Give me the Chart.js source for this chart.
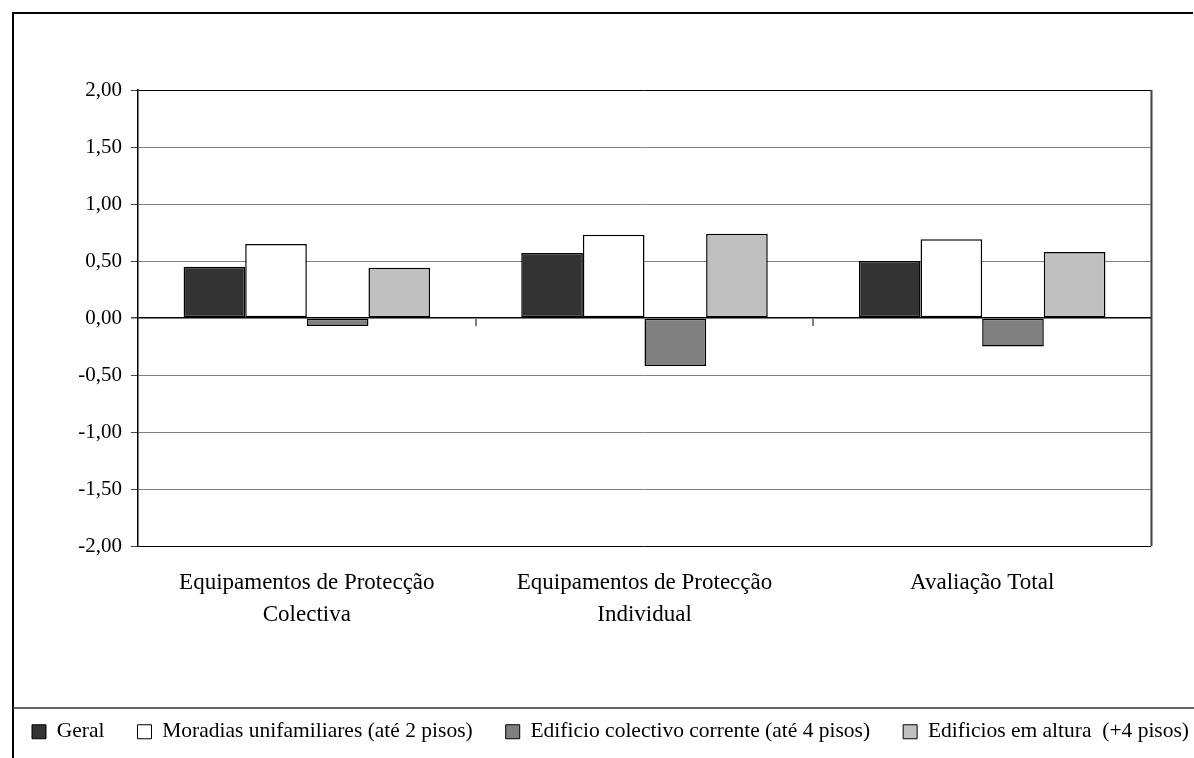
<!DOCTYPE html>
<html>
<head>
<meta charset="utf-8">
<script src="https://cdn.jsdelivr.net/npm/chart.js@4.4.1/dist/chart.umd.min.js"></script>
<style>
  html, body { margin: 0; padding: 0; background: #fff; }
  #wrap { width: 1194px; height: 758px; position: relative; }
</style>
</head>
<body>
<div id="wrap"><canvas id="chart" width="1194" height="758"></canvas></div>
<script>
// categories and series
const categories = [
    ["Equipamentos de Protecção", "Colectiva"],
    ["Equipamentos de Protecção", "Individual"],
    "Avaliação Total"
];
const geral = [0.45, 0.57, 0.50];
const moradias = [0.65, 0.73, 0.69];
const colectivo = [-0.07, -0.42, -0.25];
const altura = [0.44, 0.74, 0.58];

const seriesNames = [
    "Geral",
    "Moradias unifamiliares (até 2 pisos)",
    "Edificio colectivo corrente (até 4 pisos)",
    "Edificios em altura  (+4 pisos)"
];
const seriesColors = ["#333333", "#ffffff", "#808080", "#c0c0c0"];

const yMin = -2, yMax = 2, yStep = 0.5;

const FONT = "'Liberation Serif', 'Times New Roman', serif";

// frame, plot border and the small category ticks on the zero line
const framePlugin = {
    id: "frame",
    afterDraw(chart) {
        const ctx = chart.ctx;
        const a = chart.chartArea;
        const x = chart.scales.x, y = chart.scales.y;
        ctx.save();
        // outer chart border
        ctx.strokeStyle = "#000";
        ctx.lineWidth = 2;
        ctx.beginPath();
        ctx.moveTo(13, 760);
        ctx.lineTo(13, 13);
        ctx.lineTo(1193, 13);
        ctx.stroke();
        // legend separator
        ctx.strokeStyle = "#333";
        ctx.lineWidth = 1.5;
        ctx.beginPath();
        ctx.moveTo(13, 708);
        ctx.lineTo(1194, 708);
        ctx.stroke();
        // plot area right border
        ctx.strokeStyle = "#404040";
        ctx.lineWidth = 2;
        ctx.beginPath();
        ctx.moveTo(Math.round(a.right) + 0.5, a.top);
        ctx.lineTo(Math.round(a.right) + 0.5, a.bottom);
        ctx.stroke();
        // category boundary ticks at zero
        const y0 = Math.round(y.getPixelForValue(0));
        const half = (x.getPixelForValue(1) - x.getPixelForValue(0)) / 2;
        ctx.strokeStyle = "#808080";
        ctx.lineWidth = 2;
        for (let i = 0; i < categories.length - 1; i++) {
            const px = Math.round(x.getPixelForValue(i) + half);
            ctx.beginPath();
            ctx.moveTo(px, y0);
            ctx.lineTo(px, y0 + 8);
            ctx.stroke();
        }
        ctx.restore();
    }
};

const datasets = [geral, moradias, colectivo, altura].map((d, i) => ({
    label: seriesNames[i],
    data: d,
    backgroundColor: seriesColors[i],
    borderColor: "#000",
    borderWidth: 1.5,
    borderSkipped: false,
    categoryPercentage: 0.73,
    barPercentage: 1.0
}));

new Chart(document.getElementById("chart"), {
    type: "bar",
    data: { labels: categories, datasets: datasets },
    options: {
        responsive: false,
        animation: false,
        events: [],
        // legend is allowed to run past the right edge so its one row fits
        layout: { padding: { left: -1, top: 90, right: -60, bottom: 5.5 } },
        plugins: {
            tooltip: { enabled: false },
            legend: {
                position: "bottom",
                align: "start",
                labels: {
                    font: { family: FONT, size: 21.5 },
                    color: "#000",
                    boxWidth: 14,
                    boxHeight: 14,
                    padding: 33,
                    generateLabels(chart) {
                        return seriesNames.map((n, i) => ({
                            text: n,
                            fillStyle: seriesColors[i],
                            strokeStyle: "#000",
                            lineWidth: 1,
                            datasetIndex: i,
                            hidden: false
                        }));
                    }
                }
            }
        },
        scales: {
            x: {
                grid: { display: false, drawTicks: false },
                border: { display: false },
                ticks: {
                    font: { family: FONT, size: 23, lineHeight: 1.4 },
                    color: "#000",
                    padding: 21,
                    maxRotation: 0,
                    autoSkip: false
                },
                afterFit(scale) { scale.height = 142; }
            },
            y: {
                min: yMin,
                max: yMax,
                border: { display: true, color: "#000", width: 1.5 },
                grid: {
                    color: (c) => (c.tick.value === 0 || c.tick.value === yMin || c.tick.value === yMax) ? "#000" : "#808080",
                    lineWidth: (c) => (c.tick.value === 0 ? 1.5 : 1),
                    tickLength: 7,
                    tickColor: "#444"
                },
                ticks: {
                    stepSize: yStep,
                    font: { family: FONT, size: 21 },
                    color: "#000",
                    padding: 9,
                    callback: (v) => v.toFixed(2).replace(".", ",")
                },
                afterFit(scale) { scale.width = 139; }
            },
            // empty spacer on the right, keeps the plot off the right edge
            spacer: {
                type: "linear",
                position: "right",
                grid: { display: false, drawTicks: false },
                border: { display: false },
                ticks: { display: false },
                afterFit(scale) { scale.width = 103; }
            }
        }
    },
    plugins: [framePlugin]
});
</script>
</body>
</html>
